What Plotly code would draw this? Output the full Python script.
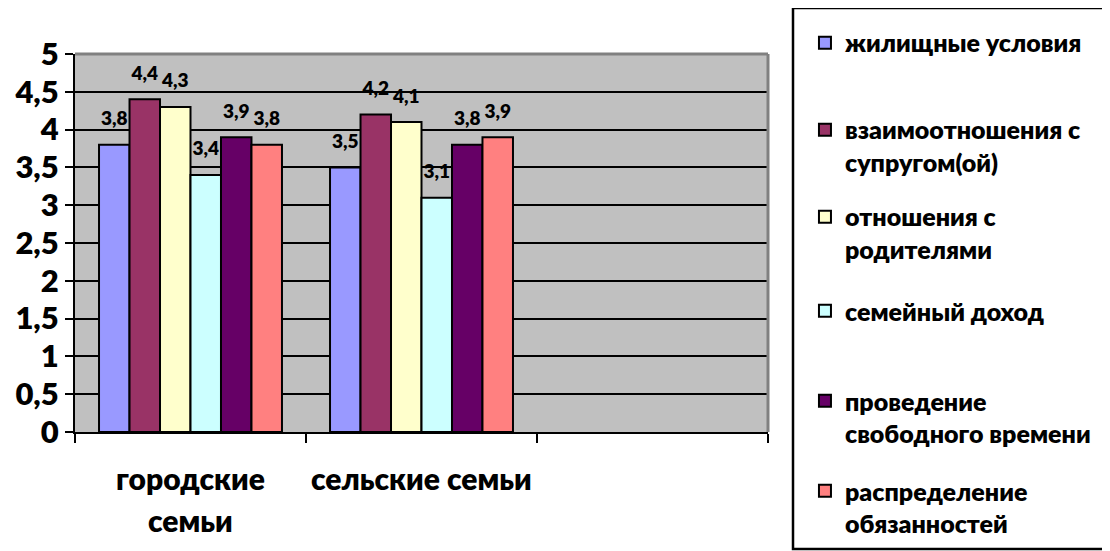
import plotly.graph_objects as go

categories = ["городские семьи", "сельские семьи", " "]
category_lines = [["городские", "семьи"], ["сельские семьи"], []]
series_names = [
    "жилищные условия",
    "взаимоотношения с<br>супругом(ой)",
    "отношения с<br>родителями",
    "семейный доход",
    "проведение<br>свободного времени",
    "распределение<br>обязанностей",
]
values = [
    [3.8, 3.5, None],
    [4.4, 4.2, None],
    [4.3, 4.1, None],
    [3.4, 3.1, None],
    [3.9, 3.8, None],
    [3.8, 3.9, None],
]
colors = ["#9999FF", "#993366", "#FFFFCC", "#CCFFFF", "#660066", "#FF8080"]
y_ticks = [0, 0.5, 1, 1.5, 2, 2.5, 3, 3.5, 4, 4.5, 5]

FONT = "Lato, 'Noto Sans', sans-serif"
W = 800

fig = go.Figure()
for i, (name, vals, col) in enumerate(zip(series_names, values, colors)):
    legend_name = name if "<br>" in name else name + "<br> "
    fig.add_trace(go.Bar(
        x=categories, y=vals, name=legend_name,
        marker=dict(color=col, line=dict(color="black", width=2)),
        legendgroup=name,
        legend="legend" if i < 3 else "legend2",
        hoverinfo="skip",
    ))
for i, vals in enumerate(values):
    fig.add_trace(go.Scatter(
        x=categories, y=vals, mode="markers+text",
        marker=dict(size=22, opacity=0),
        text=[("" if v is None else str(v).replace(".", ",")) for v in vals],
        textposition="top center",
        textfont=dict(family=FONT, size=19, color="black", weight=W),
        cliponaxis=False, showlegend=False, hoverinfo="skip",
    ))

annotations = []
for cat, lines in zip(categories, category_lines):
    for i, line in enumerate(lines):
        annotations.append(dict(
            x=cat, xref="x", y=-0.122 - i * 0.111, yref="paper",
            text=line, showarrow=False,
            font=dict(family=FONT, size=30, color="black", weight=W),
            xanchor="center", yanchor="middle",
        ))

legend_common = dict(
    xref="container", yref="container", xanchor="left", yanchor="top",
    bgcolor="rgba(0,0,0,0)", borderwidth=0,
    font=dict(family=FONT, size=25, color="black", weight=W),
    valign="top", itemwidth=30,
)

fig.update_layout(
    width=1102, height=543,
    margin=dict(l=67, r=342, t=46, b=119, autoexpand=False),
    paper_bgcolor="white", plot_bgcolor="#C0C0C0",
    separators=", ",
    barmode="group", bargap=0.208, bargroupgap=0,
    scattermode="group", scattergap=0.208,
    font=dict(family=FONT, color="black"),
    showlegend=True,
    legend=dict(x=0.7232, y=0.978, tracegroupgap=19, **legend_common),
    legend2=dict(x=0.7232, y=0.4843, tracegroupgap=22, **legend_common),
    xaxis=dict(
        type="category", categoryorder="array", categoryarray=categories,
        range=[-0.5, 2.5], tickson="boundaries",
        showticklabels=False, ticks="outside", ticklen=9, tickwidth=2, tickcolor="black",
        showline=True, linecolor="black", linewidth=2, showgrid=False, zeroline=False,
    ),
    yaxis=dict(
        range=[0, 5], tickvals=y_ticks,
        ticks="outside", ticklen=8, tickwidth=2, tickcolor="black",
        showline=True, linecolor="black", linewidth=2,
        showgrid=True, gridcolor="black", gridwidth=2, zeroline=False,
        tickfont=dict(family=FONT, size=31, color="black", weight=W),
    ),
    annotations=annotations,
    shapes=[
        dict(type="line", xref="paper", yref="paper", x0=0, x1=1, y0=1, y1=1,
             line=dict(color="#808080", width=3), layer="above"),
        dict(type="line", xref="paper", yref="paper", x0=1, x1=1, y0=0, y1=1,
             line=dict(color="#808080", width=3), layer="above"),
        dict(type="rect", xref="paper", yref="paper",
             x0=(785 - 67) / 693, x1=(1100 - 67) / 693,
             y0=(424 - 541) / 378, y1=(424 - 0) / 378,
             line=dict(color="black", width=2.5), fillcolor="rgba(0,0,0,0)"),
    ],
)

fig.write_html("out.html")
